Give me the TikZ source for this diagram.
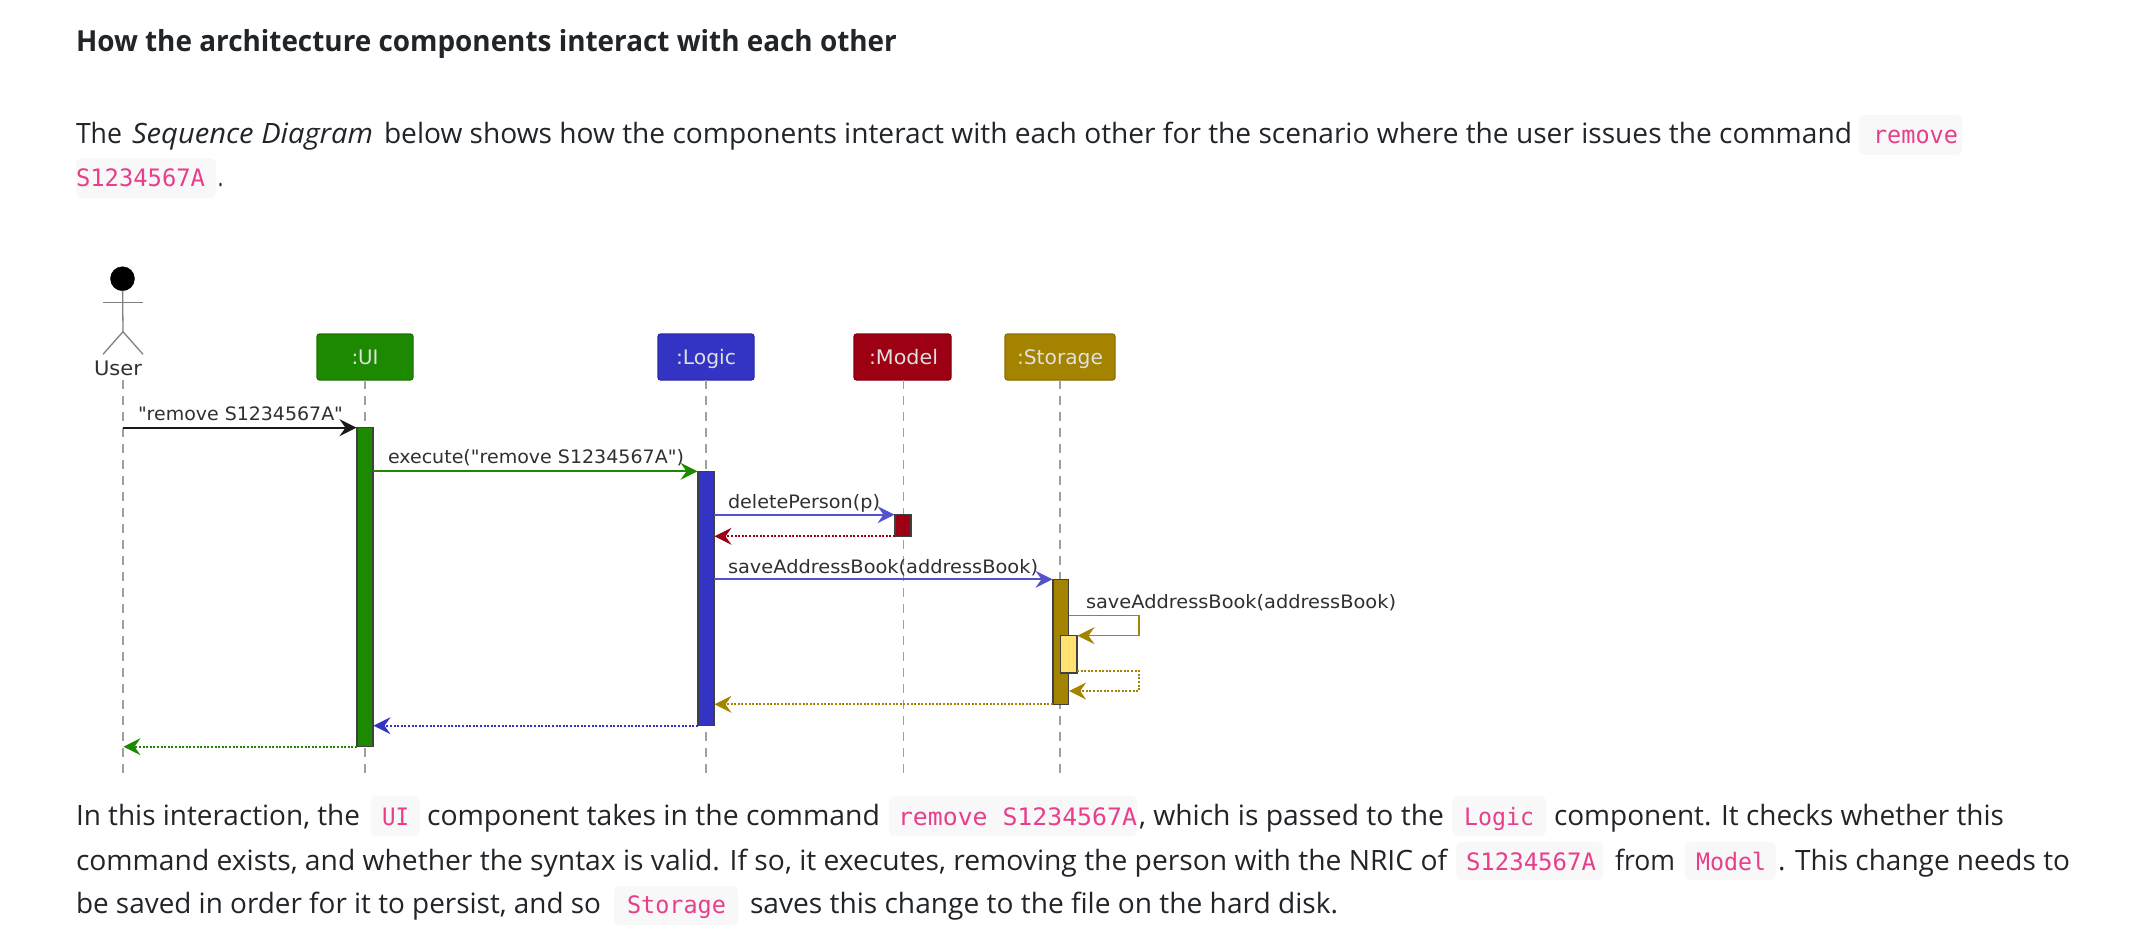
\documentclass[tikz,border=0pt]{standalone}
\usepackage{fontspec}
\usepackage{graphicx}
\usetikzlibrary{arrows.meta}
\setmainfont{Open Sans}
\newfontfamily\codef{DejaVu Sans Mono}
\newfontfamily\umlf{DejaVu Sans}
\definecolor{inkc}{HTML}{212529}
\definecolor{codec}{HTML}{E83E8C}
\definecolor{chipc}{HTML}{F8F8F8}
\definecolor{uic}{HTML}{1D8900}
\definecolor{logicc}{HTML}{3333C4}
\definecolor{modelc}{HTML}{9D0012}
\definecolor{storec}{HTML}{A38300}
\definecolor{innerc}{HTML}{FFE070}
\definecolor{lifec}{HTML}{A0A0A0}
\definecolor{umlt}{HTML}{303030}
\newcommand\fitw[2]{\resizebox{#1pt}{\height}{#2}}
% name, x, baseline y, width, font, text
\newcommand\seg[6]{\node[seg,inkc] (#1) at (#2,#3) {\fitw{#4}{#5#6}};}
\newcommand\cod[5]{\node[seg,codec] (#1) at (#2,#3) {\fitw{#4}{\fontsize{24}{30}\selectfont\codef #5}};}
\newcommand\uml[5]{\node[seg,umlt] (#1) at (#2,#3) {\fitw{#4}{\fontsize{18.5}{22}\selectfont\umlf #5}};}
\newcommand\chip[4]{\fill[chipc,rounded corners=6pt] (#1,#2) rectangle (#3,#4);}
% name, x1, y1, x2, y2, style
\newcommand\mkbox[6]{%
  \pgfmathsetmacro\bw{#4-#2}\pgfmathsetmacro\bh{#5-#3}%
  \pgfmathsetmacro\bx{(#2+#4)/2}\pgfmathsetmacro\by{(#3+#5)/2}%
  \node[#6,minimum width=\bw pt,minimum height=\bh pt] (#1) at (\bx,\by) {};}
\newcommand\umlpart[8]{% name,x1,x2,fill,border,label,labelwidth,lifex
  \mkbox{#1}{#2}{334}{#3}{380}{partbox,fill=#4,draw=#5}
  \node[seg,text=white!88!black] (#1Label) at ({#8-#7/2},364) {\fitw{#7}{\fontsize{20}{22}\selectfont\umlf #6}};
  \coordinate (#1End) at (#8,773);
  \draw[lifeline] (#1.south -| #1End) -- (#1End);}
\tikzset{
  seg/.style={inner sep=0pt,outer sep=0pt,anchor=base west},
  partbox/.style={rectangle,rounded corners=2.5pt,line width=1.2pt,inner sep=0pt,outer sep=0pt},
  actbox/.style={rectangle,draw=black!75,line width=1.4pt,inner sep=0pt,outer sep=0pt},
  lifeline/.style={draw=lifec,line width=1.1pt,dash pattern=on 9pt off 7pt},
  msg/.style={line width=1.7pt,-{Stealth[length=17pt,width=17pt,inset=6pt]},shorten >=0.5pt},
  back/.style={msg,dash pattern=on 2pt off 1.6pt},
  figure/.style={draw=black!50,line width=1.3pt}
}
\begin{document}
\begin{tikzpicture}[x=1pt,y=-1pt]
\useasboundingbox (0,0) rectangle (2131,938);
\fill[white] (0,0) rectangle (2131,938);
% top text
\seg{h1}{76}{51}{821}{\fontsize{29}{34}\selectfont\bfseries}{How the architecture components interact with each other}
\seg{a1}{76}{143}{46}{\fontsize{28}{34}\selectfont}{The}
\seg{a2}{132}{143}{241}{\fontsize{28}{34}\selectfont\itshape}{Sequence Diagram}
\seg{a3}{384}{143}{1468}{\fontsize{28}{34}\selectfont}{below shows how the components interact with each other for the scenario where the user issues the command}
\chip{1859}{115}{1962}{155}
\cod{c1}{1873}{143}{85}{remove}
\chip{76}{158}{216}{198}
\cod{c2}{76}{186}{129}{S1234567A}
\seg{a4}{218}{186}{5}{\fontsize{28}{34}\selectfont}{.}
% lifelines and participants
\coordinate (userEnd) at (123,773);
\coordinate (userTop) at (123,380);
\draw[lifeline] (userTop) -- (userEnd);
\umlpart{ui}{317}{413}{uic}{uic!85!black}{:UI}{27}{365}
\umlpart{logic}{658}{754}{logicc}{logicc!85!black}{:Logic}{60}{706}
\umlpart{model}{854}{951}{modelc}{modelc!85!black}{:Model}{69}{903.5}
\umlpart{store}{1005}{1115}{storec}{storec!85!black}{:Storage}{86}{1060}
% actor
\node[circle,fill=black,draw=black,minimum size=24pt,inner sep=0pt,outer sep=0pt] (head) at (122.5,278.7) {};
\coordinate (hip) at (123,331.7);
\coordinate (armL) at (103,302.7);
\coordinate (armR) at (143,302.7);
\coordinate (legL) at (103,354.3);
\coordinate (legR) at (143,354.3);
\draw[figure] (head) -- (hip);
\draw[figure] (armL) -- (armR);
\draw[figure] (legL) -- (hip) -- (legR);
\node[seg,umlt] (userLabel) at (94,375) {\fitw{48}{\fontsize{20}{22}\selectfont\umlf User}};
% activations
\mkbox{uiAct}{357}{427.7}{373}{746.7}{actbox,fill=uic}
\mkbox{logicAct}{698}{471.3}{714}{725.7}{actbox,fill=logicc}
\mkbox{modelAct}{895}{514.7}{911}{536.3}{actbox,fill=modelc}
\mkbox{storeAct}{1053}{579.3}{1068.6}{704.3}{actbox,fill=storec}
\mkbox{innerAct}{1060.7}{635.7}{1077}{673}{actbox,fill=innerc}
% messages
\draw[msg,draw=black!90] (userTop |- uiAct.north) -- (uiAct.north west);
\draw[msg,uic] (uiAct.east |- logicAct.north) -- (logicAct.north west);
\draw[msg,logicc!85!white] (logicAct.east |- modelAct.north) -- (modelAct.north west);
\draw[back,modelc] (modelAct.south west) -- (logicAct.east |- modelAct.south);
\draw[msg,logicc!85!white] (logicAct.east |- storeAct.north) -- (storeAct.north west);
\coordinate (selfA) at (1139,615.7);
\coordinate (selfB) at (1139,671);
\coordinate (selfC) at (1139,691);
\draw[msg,storec,line width=1.4pt] (storeAct.east |- selfA) -- (selfA) -- (selfA |- innerAct.north) -- (innerAct.north east);
\draw[back,storec,line width=1.4pt] (innerAct.east |- selfB) -- (selfB) -- (selfC) -- (storeAct.east |- selfC);
\draw[back,storec] (storeAct.south west) -- (logicAct.east |- storeAct.south);
\draw[back,logicc] (logicAct.south west) -- (uiAct.east |- logicAct.south);
\draw[back,uic] (uiAct.south west) -- (userTop |- uiAct.south);
% message labels
\uml{m1}{138}{420}{205}{"remove S1234567A"}
\uml{m2}{388}{463}{296}{execute("remove S1234567A")}
\uml{m3}{728}{508}{152}{deletePerson(p)}
\uml{m4}{728}{573}{310}{saveAddressBook(addressBook)}
\uml{m5}{1086}{608}{310}{saveAddressBook(addressBook)}
% bottom text
\chip{371}{796}{420}{836}
\chip{889}{796}{1137}{836}
\chip{1452}{796}{1546}{836}
\chip{1456}{842}{1603}{880}
\chip{1685}{842}{1776}{880}
\chip{614}{886}{738}{925}
\seg{b1}{76}{825}{284}{\fontsize{28}{34}\selectfont}{In this interaction, the}
\cod{b2}{382}{825}{27}{UI}
\seg{b3}{427}{825}{453}{\fontsize{28}{34}\selectfont}{component takes in the command}
\cod{b4}{898}{825}{239}{remove S1234567A}
\seg{b5}{1139}{825}{305}{\fontsize{28}{34}\selectfont}{, which is passed to the}
\cod{b6}{1464}{825}{70}{Logic}
\seg{b7}{1554}{825}{450}{\fontsize{28}{34}\selectfont}{component. It checks whether this}
\seg{d1}{76}{870}{1371}{\fontsize{28}{34}\selectfont}{command exists, and whether the syntax is valid. If so, it executes, removing the person with the NRIC of}
\cod{d2}{1466}{870}{130}{S1234567A}
\seg{d3}{1615}{870}{60}{\fontsize{28}{34}\selectfont}{from}
\cod{d4}{1696}{870}{70}{Model}
\seg{d5}{1778}{870}{292}{\fontsize{28}{34}\selectfont}{. This change needs to}
\seg{f1}{76}{913}{525}{\fontsize{28}{34}\selectfont}{be saved in order for it to persist, and so}
\cod{f2}{627}{913}{99}{Storage}
\seg{f3}{750}{913}{588}{\fontsize{28}{34}\selectfont}{saves this change to the file on the hard disk.}
\end{tikzpicture}
\end{document}
